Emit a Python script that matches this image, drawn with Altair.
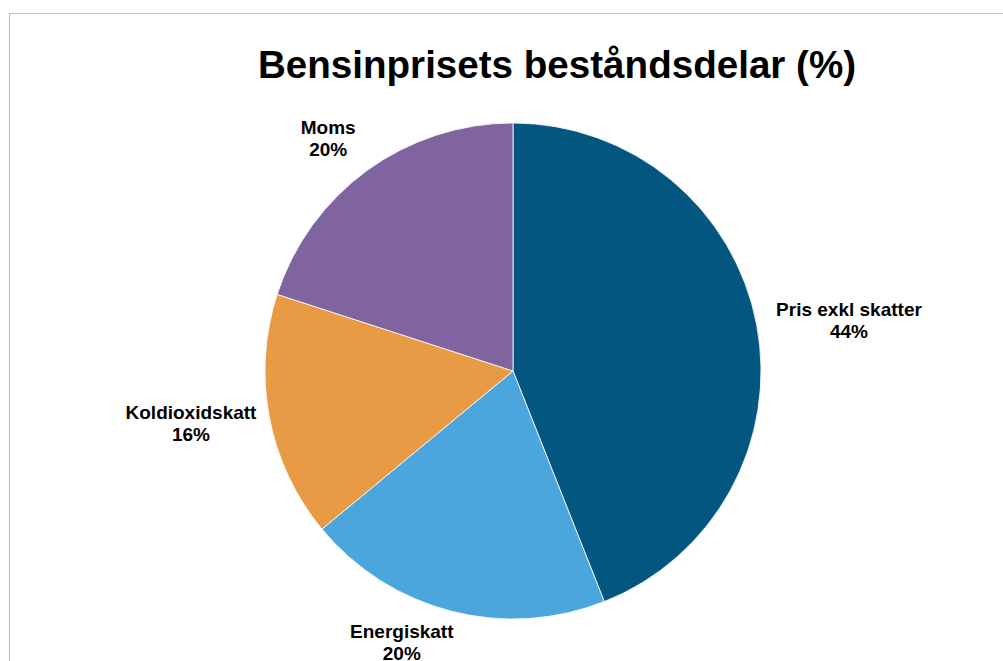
import math
import altair as alt
import pandas as pd

# ---- data ----
TITLE = "Bensinprisets beståndsdelar (%)"
categories = ["Pris exkl skatter", "Energiskatt", "Koldioxidskatt", "Moms"]
values = [44, 20, 16, 20]

# ---- styling / layout ----
colors = ["#02567f", "#4aa6dc", "#e99a45", "#8064a0"]
FONT = "Liberation Sans"
PIE_R = 248
# label placement: radial distance (px) and angular nudge (percent units)
label_radius = [339.6, 294.2, 326.3, 296.3]
label_nudge = [0.67, 2.17, 0.42, -0.72]

total = sum(values)
df = pd.DataFrame({
    "cat": categories,
    "value": values,
    "idx": list(range(len(categories))),
    "lr": label_radius,
    "nudge": label_nudge,
})

W, H = 980, 580
PAD_L, PAD_T = 23, 81

base = alt.Chart(df)

pie = base.mark_arc(outerRadius=PIE_R, stroke="white", strokeWidth=0.8).encode(
    theta=alt.Theta("value:Q", stack=True, scale=alt.Scale(domain=[0, total], range=[0, 2 * math.pi])),
    color=alt.Color("cat:N", scale=alt.Scale(domain=categories, range=colors), legend=None),
    order=alt.Order("idx:Q", sort="ascending"),
)

labels = base.transform_window(
    cum="sum(value)", sort=[alt.SortField("idx")], frame=[None, 0]
).transform_calculate(
    mid="datum.cum - datum.value / 2 + datum.nudge",
    txt="datum.cat + '\\n' + datum.value + '%'",
).mark_text(
    font=FONT, fontSize=19, fontWeight="bold", color="black",
    align="center", baseline="middle", lineBreak="\n", lineHeight=22, dy=-11,
).encode(
    theta=alt.Theta("mid:Q", stack=None, scale=alt.Scale(domain=[0, total], range=[0, 2 * math.pi])),
    radius=alt.Radius("lr:Q", scale=alt.Scale(type="linear", domain=[0, 400], range=[0, 400], zero=True)),
    text="txt:N",
)

title = alt.Chart(pd.DataFrame({"t": [TITLE]})).mark_text(
    font=FONT, fontSize=38.6, fontWeight="bold", color="black",
    align="center", baseline="alphabetic",
).encode(
    text="t:N",
    x=alt.value(557 - PAD_L),
    y=alt.value(78 - PAD_T),
)

frame = alt.Chart(pd.DataFrame({"f": [0]})).mark_rect(
    fillOpacity=0, stroke="#bfbfbf", strokeWidth=1.2
).encode(
    x=alt.value(9.5 - PAD_L),
    x2=alt.value(1200),
    y=alt.value(13.5 - PAD_T),
    y2=alt.value(800),
)

chart = alt.layer(frame, pie, labels, title).properties(
    width=W, height=H,
    padding={"left": PAD_L, "top": PAD_T, "right": 0, "bottom": 0},
    autosize=alt.AutoSizeParams(type="none"),
    background="white",
).configure_view(stroke=None)

chart.save("out.html", embed_options={"renderer": "svg", "actions": False})
